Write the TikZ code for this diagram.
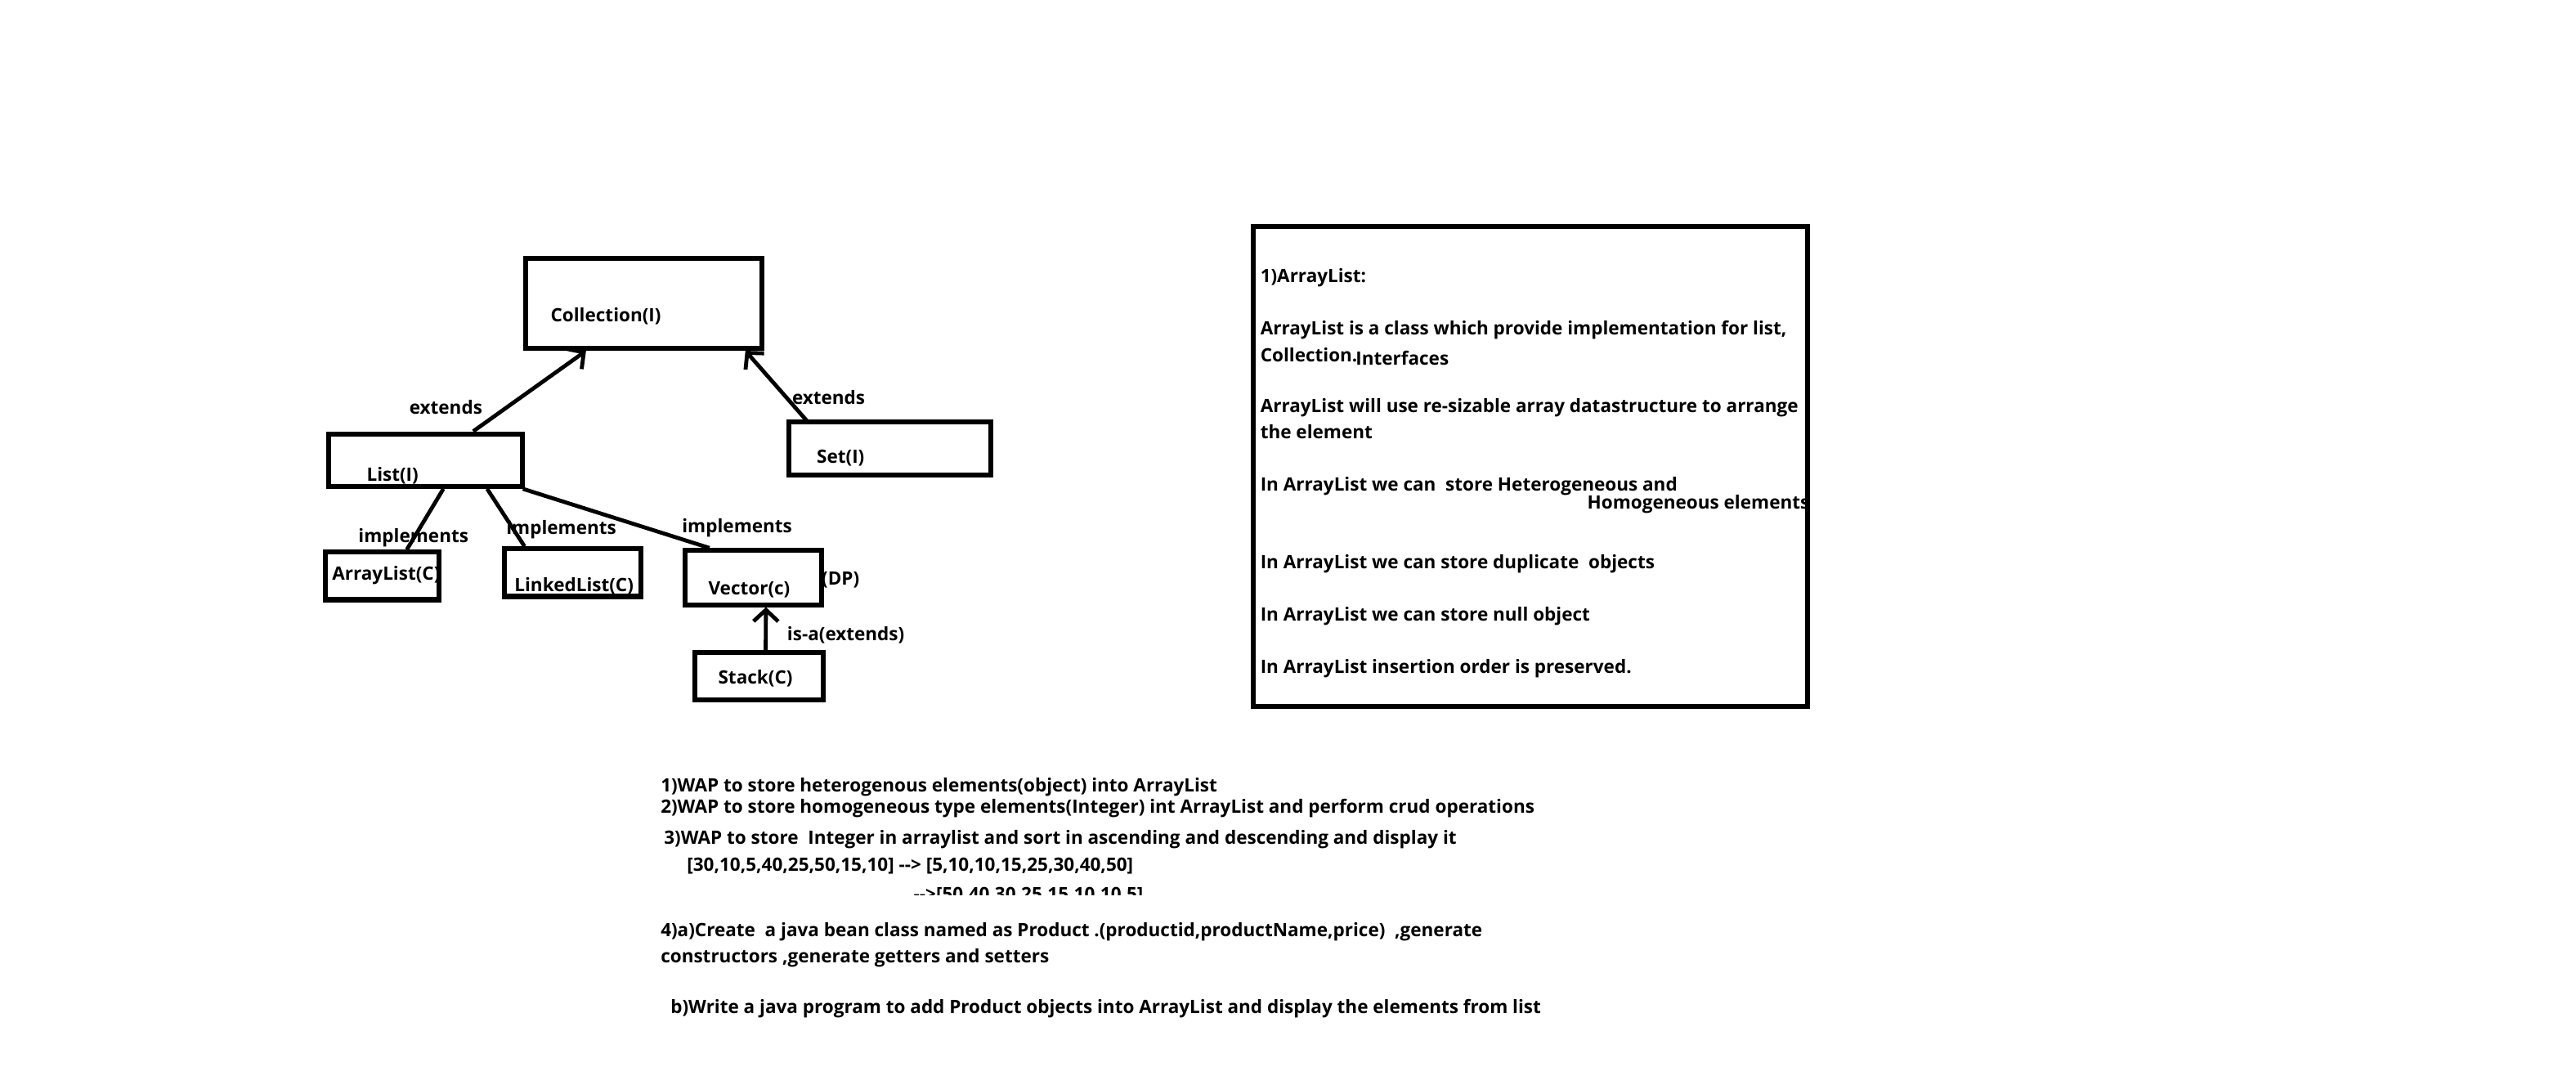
\documentclass[tikz,border=0pt]{standalone}
\usepackage{fontspec}
\setmainfont{Open Sans}
\usetikzlibrary{arrows.meta,calc}

\begin{document}
\begin{tikzpicture}[x=1pt,y=-1pt,
  box/.style={draw, rectangle, line width=3pt, inner sep=0pt},
  txt/.style={anchor=base west, inner sep=0pt, font=\bfseries\fontsize{11.2}{13}\selectfont},
  conn/.style={line width=2.4pt},
  ext/.style={line width=2.4pt, -{Straight Barb[length=7pt,width=15pt,line width=2.4pt]}}
]
\useasboundingbox (0,0) rectangle (1568,649);

% box captions (drawn first so the frames lie on top)
\node[txt] (tcoll) at (335,196) {Collection(I)};
\node[txt] (tlist) at (223,293) {List(I)};
\node[txt] (tset) at (497,282) {Set(I)};
\node[txt] (talist) at (202,353) {ArrayList(C)};
\node[txt] (tllist) at (313,360) {LinkedList(C)};
\node[txt] (tvec) at (431,362) {Vector(c)};
\node[txt] (tdp) at (500,356) {(DP)};
\node[txt] (tstack) at (437,416) {Stack(C)};

% class hierarchy boxes
\node[box, minimum width=144pt, minimum height=55pt] (coll) at (392,184.5) {};
\node[box, minimum width=118pt, minimum height=32pt] (list) at (259,280) {};
\node[box, minimum width=123pt, minimum height=32pt] (set) at (541.5,273) {};
\node[box, minimum width=69pt, minimum height=29pt] (alist) at (232.5,350.5) {};
\node[box, minimum width=83pt, minimum height=29pt] (llist) at (348.5,348.5) {};
\node[box, minimum width=83pt, minimum height=33pt] (vec) at (458.5,351.5) {};
\node[box, minimum width=78pt, minimum height=29pt] (stack) at (462,411.5) {};

% relations
\draw[ext] ($(list.north west)!0.74!(list.north east)$) -- ($(coll.south west)!0.26!(coll.south east)$);
\draw[ext] ($(set.north west)!0.11!(set.north east)+(0,2)$) -- ($(coll.south west)!0.92!(coll.south east)$);
\draw[conn] ($(list.south west)!0.59!(list.south east)$) -- ($(alist.north west)!0.71!(alist.north east)$);
\draw[conn] ($(list.south west)!0.81!(list.south east)$) -- ($(llist.north west)!0.16!(llist.north east)$);
\draw[conn] ($(list.south west)!0.99!(list.south east)$) -- ($(vec.north west)!0.19!(vec.north east)$);
\draw[ext] ($(stack.north west)!0.55!(stack.north east)$) -- ($(vec.south west)!0.59!(vec.south east)$);

% relation labels
\node[txt] (le1) at (249,252) {extends};
\node[txt] (le2) at (482,246) {extends};
\node[txt] (li1) at (218,330) {implements};
\node[txt] (li2) at (308,325) {implements};
\node[txt] (li3) at (415,324) {implements};
\node[txt] (lisa) at (479,390) {is-a(extends)};

% ArrayList notes
\node[txt] (n1) at (767,172) {1)ArrayList:};
\node[txt] (n2) at (767,204) {ArrayList is a class which provide implementation for list,};
\node[txt] (n3) at (767,220) {Collection.};
\node[txt] (n3b) at (825,222) {Interfaces};
\node[txt] (n4) at (767,251) {ArrayList will use re-sizable array datastructure to arrange};
\node[txt] (n5) at (767,267) {the element};
\node[txt] (n6) at (767,299) {In ArrayList we can\ \ store Heterogeneous and};
\node[txt] (n6b) at (966,310) {Homogeneous elements};
\node[txt] (n7) at (767,346) {In ArrayList we can store duplicate\ \ objects};
\node[txt] (n8) at (767,378) {In ArrayList we can store null object};
\node[txt] (n9) at (767,410) {In ArrayList insertion order is preserved.};
\node[box, minimum width=337pt, minimum height=292pt] (info) at (931.5,284) {};

% exercises
\node[txt] (e1) at (402,482) {1)WAP to store heterogenous elements(object) into ArrayList};
\node[txt] (e2) at (402,495) {2)WAP to store homogeneous type elements(Integer) int ArrayList and perform crud operations};
\node[txt] (e3) at (404,514) {3)WAP to store\ \ Integer in arraylist and sort in ascending and descending and display it};
\node[txt] (e3a) at (418,530) {[30,10,5,40,25,50,15,10] -{}-> [5,10,10,15,25,30,40,50]};
\begin{scope}
  \clip (550,533) rectangle (720,544.5);
  \node[txt] (e3b) at (556,548) {-{}->[50,40,30,25,15,10,10,5]};
\end{scope}
\node[txt] (e4) at (402,570) {4)a)Create\ \ a java bean class named as Product .(productid,productName,price)\ \ ,generate};
\node[txt] (e4b) at (402,586) {constructors ,generate getters and setters};
\node[txt] (e5) at (408,617) {b)Write a java program to add Product objects into ArrayList and display the elements from list};
\end{tikzpicture}
\end{document}
